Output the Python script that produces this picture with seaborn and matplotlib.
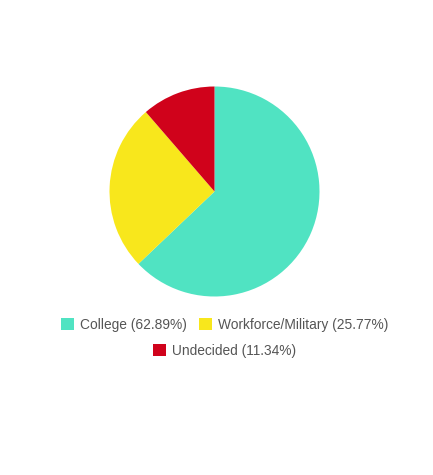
import matplotlib
matplotlib.use("Agg")
import matplotlib.pyplot as plt
from matplotlib.patches import Patch
import seaborn as sns

categories = ["College", "Workforce/Military", "Undecided"]
values = [62.89, 25.77, 11.34]
colors = ["#50E3C2", "#F8E71C", "#D0021B"]

sns.set_theme(style="white")
plt.rcParams['font.family'] = ['Liberation Sans', 'DejaVu Sans']

W, H = 433, 475
fig = plt.figure(figsize=(W / 100, H / 100), dpi=100)
fig.patch.set_facecolor("white")

cx, cy, r = 214.5, 191.5, 105
ax = fig.add_axes([(cx - r) / W, (H - cy - r) / H, 2 * r / W, 2 * r / H])
ax.pie(values, colors=colors, startangle=90, counterclock=False,
       radius=1, wedgeprops=dict(linewidth=0))
ax.set_xlim(-1, 1)
ax.set_ylim(-1, 1)
ax.set_aspect("auto")
ax.axis("off")

labels = [f"{c} ({v:.2f}%)" for c, v in zip(categories, values)]
handles = [Patch(facecolor=col, edgecolor="none") for col in colors]

common = dict(frameon=False, fontsize=9.9, handlelength=0.95, handleheight=0.95,
              handletextpad=0.45, columnspacing=0.85, borderpad=0, labelcolor="#555555")
leg1 = fig.legend(handles[:2], labels[:2], ncol=2, loc="center",
                  bbox_to_anchor=(224.5 / W, 1 - 325 / H), **common)
leg2 = fig.legend(handles[2:], labels[2:], ncol=1, loc="center",
                  bbox_to_anchor=(224.5 / W, 1 - 350.5 / H), **common)

fig.savefig("out.png", dpi=100, facecolor="white")
